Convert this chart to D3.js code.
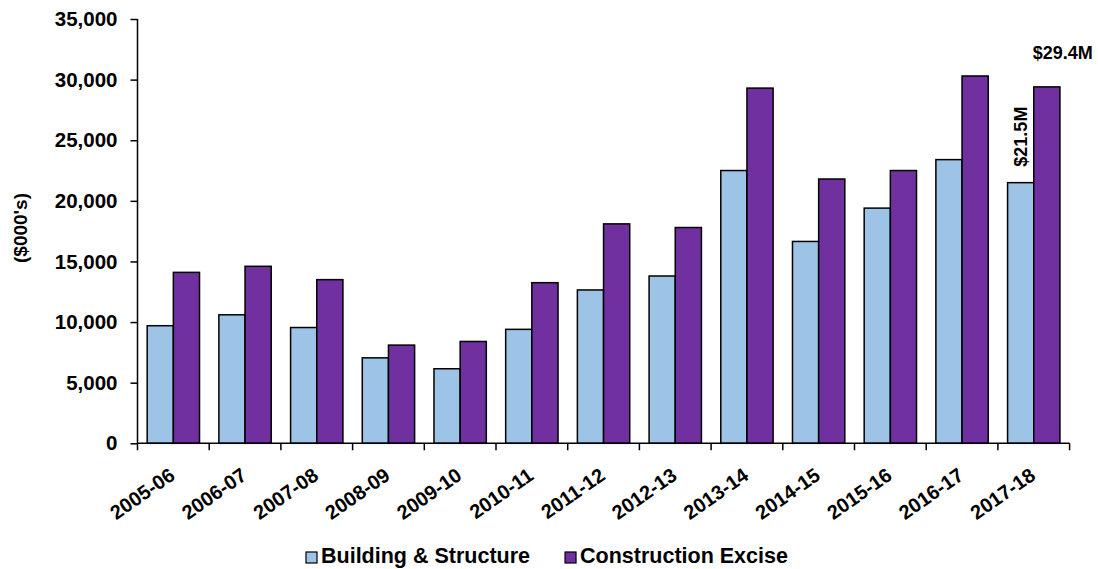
<!DOCTYPE html>
<html>
<head>
<meta charset="utf-8">
<script src="https://cdn.jsdelivr.net/npm/d3@7"></script>
<style>
  html, body { margin: 0; padding: 0; background: #fff; }
  svg { display: block; font-family: "Liberation Sans", Arial, sans-serif; font-weight: bold; }
</style>
</head>
<body>
<svg id="chart" width="1098" height="569"></svg>
<script>
// Fiscal years
const years = ["2005-06","2006-07","2007-08","2008-09","2009-10","2010-11","2011-12",
               "2012-13","2013-14","2014-15","2015-16","2016-17","2017-18"];
// Revenue in $000's
const buildingStructure = [9700,10600,9550,7050,6150,9400,12650,13800,22500,16650,19400,23400,21500];
const constructionExcise = [14100,14600,13500,8100,8400,13250,18100,17800,29300,21800,22500,30300,29400];
const seriesNames = ["Building & Structure","Construction Excise"];
const seriesColors = ["#9DC3E6","#7030A0"];
const yTicks = [0,5000,10000,15000,20000,25000,30000,35000];

const rows = years.map((y, i) => ({ year: y, values: [buildingStructure[i], constructionExcise[i]] }));

const svg = d3.select("#chart");
const plot = { left: 137.5, right: 1069.6, top: 19, bottom: 443.3 };

const x0 = d3.scaleBand().domain(years).range([plot.left, plot.right]).padding(0);
const x1 = d3.scaleBand().domain(d3.range(2)).range([0, x0.bandwidth()]).paddingInner(0).paddingOuter(0.37);
const y = d3.scaleLinear().domain([0, 35000]).range([plot.bottom, plot.top]);

// Bars
const groups = svg.append("g").selectAll("g")
  .data(rows).join("g")
  .attr("transform", d => `translate(${x0(d.year)},0)`);

groups.selectAll("rect")
  .data(d => d.values.map((v, k) => ({ v, k })))
  .join("rect")
  .attr("x", d => x1(d.k))
  .attr("y", d => y(d.v))
  .attr("width", x1.bandwidth())
  .attr("height", d => y(0) - y(d.v))
  .attr("fill", d => seriesColors[d.k])
  .attr("stroke", "#000")
  .attr("stroke-width", 1.5);

// Y axis
const yAxis = svg.append("g")
  .attr("transform", `translate(${plot.left},0)`)
  .call(d3.axisLeft(y).tickValues(yTicks).tickFormat(d3.format(",")).tickSize(7).tickPadding(13));
yAxis.select(".domain").attr("stroke", "#000").attr("stroke-width", 1.5).attr("d", `M0,${plot.top}V${plot.bottom}`);
yAxis.selectAll(".tick line").attr("stroke", "#000").attr("stroke-width", 1.5);
yAxis.selectAll(".tick text")
  .attr("font-size", 20.5).attr("font-weight", "bold").attr("fill", "#000")
  .attr("font-family", "Liberation Sans, Arial, sans-serif");

// X axis: ticks at category boundaries
const xAxisG = svg.append("g").attr("transform", `translate(0,${plot.bottom})`);
xAxisG.append("line")
  .attr("x1", plot.left).attr("x2", plot.right)
  .attr("stroke", "#000").attr("stroke-width", 1.5);
const boundaries = years.map(d => x0(d)).concat([plot.right]);
xAxisG.selectAll("line.tk").data(boundaries).join("line").attr("class", "tk")
  .attr("x1", d => d).attr("x2", d => d).attr("y1", 0).attr("y2", 7)
  .attr("stroke", "#000").attr("stroke-width", 1.5);

xAxisG.selectAll("text").data(years).join("text")
  .attr("transform", d => `translate(${x0(d) + x0.bandwidth() / 2 + 3},${35}) rotate(-35)`)
  .attr("text-anchor", "end")
  .attr("font-size", 20)
  .attr("fill", "#000")
  .text(d => d);

// Y axis title
svg.append("text")
  .attr("transform", `translate(20,228) rotate(-90)`)
  .attr("text-anchor", "middle")
  .attr("dy", "0.35em")
  .attr("font-size", 19)
  .attr("fill", "#000")
  .text("($000's)");

// Value callouts on the latest year
const last = rows[rows.length - 1];
const lx = x0(last.year);
svg.append("text")
  .attr("transform", `translate(${lx + x1(0) + x1.bandwidth() / 2},${y(last.values[0]) - 16}) rotate(-90)`)
  .attr("text-anchor", "start")
  .attr("dy", "0.35em")
  .attr("font-size", 18)
  .attr("fill", "#000")
  .text("$" + d3.format(".1f")(last.values[0] / 1000) + "M");
svg.append("text")
  .attr("x", lx + x1(1) + x1.bandwidth() / 2 + 16)
  .attr("y", y(last.values[1]) - 28)
  .attr("text-anchor", "middle")
  .attr("font-size", 18)
  .attr("fill", "#000")
  .text("$" + d3.format(".1f")(last.values[1] / 1000) + "M");

// Legend
const legend = svg.append("g").attr("transform", "translate(306,563)");
let cursor = 0;
seriesNames.forEach((name, k) => {
  const item = legend.append("g").attr("transform", `translate(${cursor},0)`);
  item.append("rect")
    .attr("x", 0).attr("y", -11).attr("width", 11).attr("height", 11)
    .attr("fill", seriesColors[k]).attr("stroke", "#000").attr("stroke-width", 1.2);
  const t = item.append("text")
    .attr("x", 15).attr("y", 0)
    .attr("font-size", 21.5).attr("fill", "#000")
    .text(name);
  cursor += 15 + t.node().getComputedTextLength() + 35;
});
</script>
</body>
</html>
